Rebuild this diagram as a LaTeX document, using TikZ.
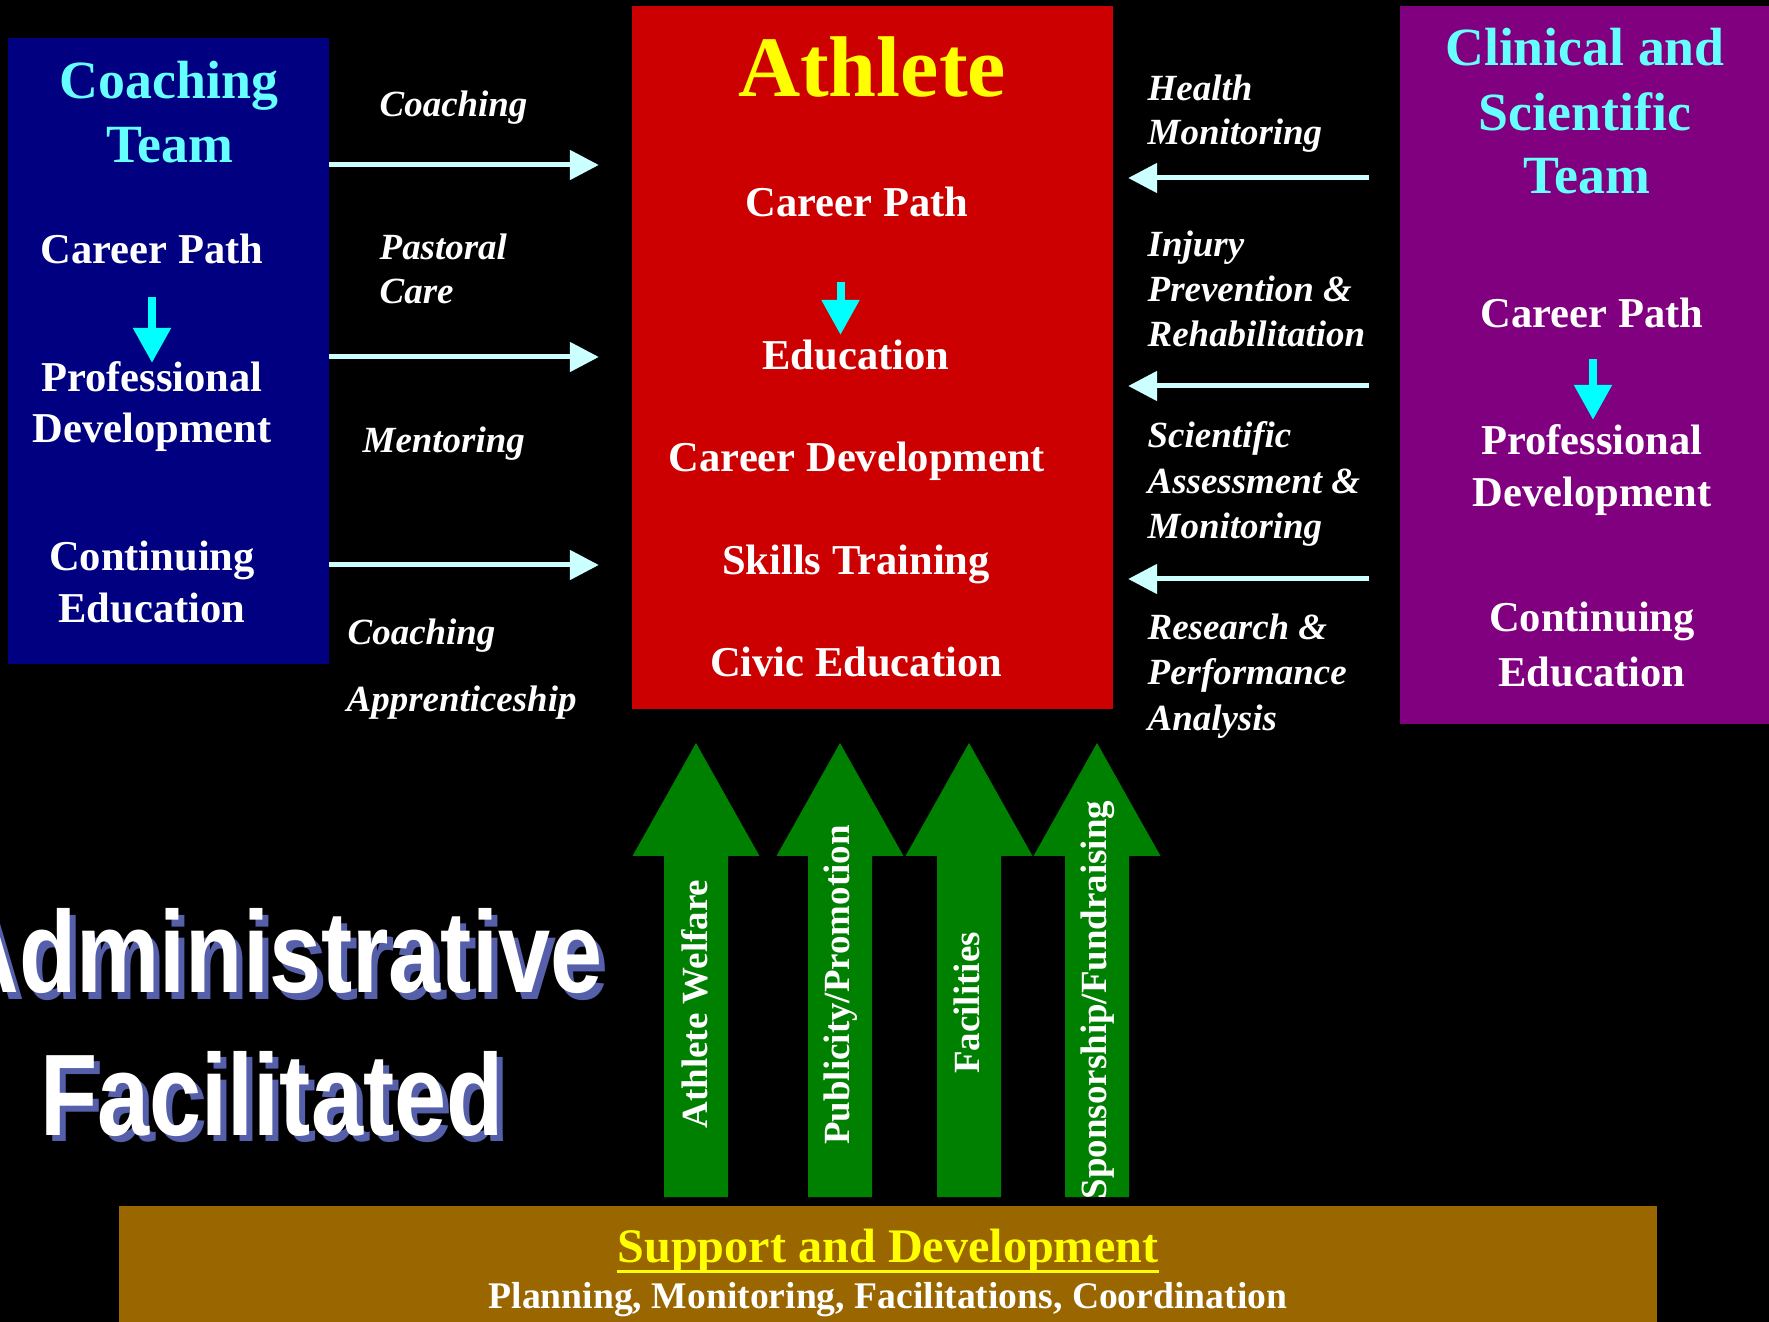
\documentclass[tikz,border=0pt]{standalone}
\usepackage{fontspec}
\usepackage{graphicx}
\setmainfont{Liberation Serif}
\newfontfamily\adminfont{Liberation Sans}
\usetikzlibrary{arrows.meta}
\definecolor{navybox}{RGB}{0,0,128}
\definecolor{redbox}{RGB}{204,0,0}
\definecolor{purplebox}{RGB}{128,0,128}
\definecolor{goldbox}{RGB}{153,102,0}
\definecolor{greenarr}{RGB}{0,128,0}
\definecolor{titlecyan}{RGB}{102,255,255}
\definecolor{cyanarr}{RGB}{0,255,255}
\definecolor{paleline}{RGB}{204,255,255}
\definecolor{shadowblue}{RGB}{85,95,170}
\definecolor{yel}{RGB}{255,255,0}
\begin{document}
\begin{tikzpicture}[x=0.01cm,y=-0.01cm,
  panel/.style={rectangle,inner sep=0,outer sep=0,draw=none},
  boxtxt/.style={font=\bfseries\fontsize{12.1}{14}\selectfont,text=white,inner sep=0,anchor=base},
  ttl/.style={font=\bfseries\fontsize{15.3}{18}\selectfont,text=titlecyan,inner sep=0,anchor=base},
  lbl/.style={font=\bfseries\itshape\fontsize{10.5}{12}\selectfont,text=white,inner sep=0,anchor=base west},
  vtxt/.style={font=\bfseries\fontsize{10.5}{12}\selectfont,text=white,rotate=90,inner sep=0},
  paleconn/.style={draw=paleline,line width=0.05cm,-{Triangle[length=0.29cm,width=0.29cm]}},
  cyanconn/.style={draw=cyanarr,line width=0.08cm,-{Triangle[length=0.35cm,width=0.36cm]}},
  bigarrow/.style={fill=greenarr},
  admin/.style={font=\adminfont\bfseries\fontsize{33}{36}\selectfont,inner sep=0,anchor=base},
]
\useasboundingbox (0,0) rectangle (1769,1322);
\fill[black] (0,0) rectangle (1769,1322);
\clip (0,0) rectangle (1769,1322);

% panels
\node[panel,fill=navybox,minimum width=3.21cm,minimum height=6.26cm] (coach) at (168.5,351) {};
\node[panel,fill=redbox,minimum width=4.81cm,minimum height=7.03cm] (athlete) at (872.5,357.5) {};
\node[panel,fill=purplebox,minimum width=3.69cm,minimum height=7.18cm] (clin) at (1584.5,365) {};
\node[panel,fill=goldbox,minimum width=15.38cm,minimum height=1.16cm] (gold) at (888,1264) {};

% coaching team texts
\node[ttl] (ct1) at (169,99) {Coaching};
\node[ttl] (ct2) at (170,163) {Team};
\node[boxtxt] (ccp) at (152,264) {Career Path};
\node[boxtxt] (cpd1) at (152,392) {Professional};
\node[boxtxt] (cpd2) at (152,443) {Development};
\node[boxtxt] (cce1) at (152,571) {Continuing};
\node[boxtxt] (cce2) at (152,623) {Education};
\draw[cyanconn] (152,297) -- (152,363);

% athlete texts
\node[font=\bfseries\fontsize{24.5}{28}\selectfont,text=yel,inner sep=0,anchor=base] (ath) at (872,97) {Athlete};
\node[boxtxt] (acp) at (857,217) {Career Path};
\node[boxtxt] (aed) at (856,370) {Education};
\node[boxtxt] (acd) at (857,472) {Career Development};
\node[boxtxt] (ast) at (856,575) {Skills Training};
\node[boxtxt] (ace) at (856,677) {Civic Education};
\draw[cyanconn] (840.5,282) -- (840.5,335);

% clinical team texts
\node[ttl] (cl1) at (1585,66) {Clinical and};
\node[ttl] (cl2) at (1585,131) {Scientific};
\node[ttl] (cl3) at (1587,194) {Team};
\node[boxtxt] (lcp) at (1592,328) {Career Path};
\node[boxtxt] (lpd1) at (1592,455) {Professional};
\node[boxtxt] (lpd2) at (1592,507) {Development};
\node[boxtxt] (lce1) at (1592,632) {Continuing};
\node[boxtxt] (lce2) at (1592,687) {Education};
\draw[cyanconn] (1593,359) -- (1593,420);

% left connectors
\coordinate (la) at (0,165);
\coordinate (lb) at (0,357);
\coordinate (lc) at (0,565);
\draw[paleconn,shorten >=0.33cm] (coach.east |- la) -- (athlete.west |- la);
\draw[paleconn,shorten >=0.33cm] (coach.east |- lb) -- (athlete.west |- lb);
\draw[paleconn,shorten >=0.33cm] (coach.east |- lc) -- (athlete.west |- lc);
\node[lbl] (l1) at (379,117) {Coaching};
\node[lbl] (l2) at (379,260) {Pastoral};
\node[lbl] (l3) at (379,304) {Care};
\node[lbl] (l4) at (362,453) {Mentoring};
\node[lbl] (l5) at (347,645) {Coaching};
\node[lbl] (l6) at (346,712) {Apprenticeship};

% right connectors
\coordinate (ra) at (0,178);
\coordinate (rb) at (0,386);
\coordinate (rc) at (0,579);
\draw[paleconn,shorten <=0.31cm,shorten >=0.15cm] (clin.west |- ra) -- (athlete.east |- ra);
\draw[paleconn,shorten <=0.31cm,shorten >=0.15cm] (clin.west |- rb) -- (athlete.east |- rb);
\draw[paleconn,shorten <=0.31cm,shorten >=0.15cm] (clin.west |- rc) -- (athlete.east |- rc);
\node[lbl] (r1) at (1147,101) {Health};
\node[lbl] (r2) at (1147,145) {Monitoring};
\node[lbl] (r3) at (1147,257) {Injury};
\node[lbl] (r4) at (1147,302) {Prevention \&};
\node[lbl] (r5) at (1147,347) {Rehabilitation};
\node[lbl] (r6) at (1147,448) {Scientific};
\node[lbl] (r7) at (1147,494) {Assessment \&};
\node[lbl] (r8) at (1147,539) {Monitoring};
\node[lbl] (r9) at (1147,640) {Research \&};
\node[lbl] (r10) at (1147,685) {Performance};
\node[lbl] (r11) at (1147,731) {Analysis};

% green arrows
\foreach \cx in {696,840,969,1097}{
  \fill[bigarrow] (\cx-32,1197) -- (\cx-32,856) -- (\cx-63.5,856) -- (\cx,743)
     -- (\cx+63.5,856) -- (\cx+32,856) -- (\cx+32,1197) -- cycle;
}
\node[vtxt] (g1) at (695,1004) {Athlete Welfare};
\node[vtxt] (g2) at (841,985) {Publicity/Promotion};
\node[vtxt] (g3) at (967,1003) {Facilities};
\node[vtxt] (g4) at (1098,1000) {Sponsorship/Fundraising};

% administrative text with shadow
\node[admin,text=shadowblue] (adm1s) at (283,999) {\scalebox{0.807}[1]{Administrative}};
\node[admin,text=white] (adm1) at (277,993) {\scalebox{0.807}[1]{Administrative}};
\node[admin,text=shadowblue] (fac1s) at (278,1141) {\scalebox{0.807}[1]{Facilitated}};
\node[admin,text=white] (fac1) at (272,1135) {\scalebox{0.807}[1]{Facilitated}};

% bottom box texts
\node[font=\bfseries\fontsize{13.7}{16}\selectfont,text=yel,inner sep=0,anchor=base] (sup) at (888,1262) {Support and Development};
\draw[yel,line width=0.03cm] ([yshift=-0.095cm]sup.base west) -- ([yshift=-0.095cm]sup.base east);
\node[font=\bfseries\fontsize{10.7}{12}\selectfont,text=white,inner sep=0,anchor=base] (plan) at (888,1308) {Planning, Monitoring, Facilitations, Coordination};
\end{tikzpicture}
\end{document}
